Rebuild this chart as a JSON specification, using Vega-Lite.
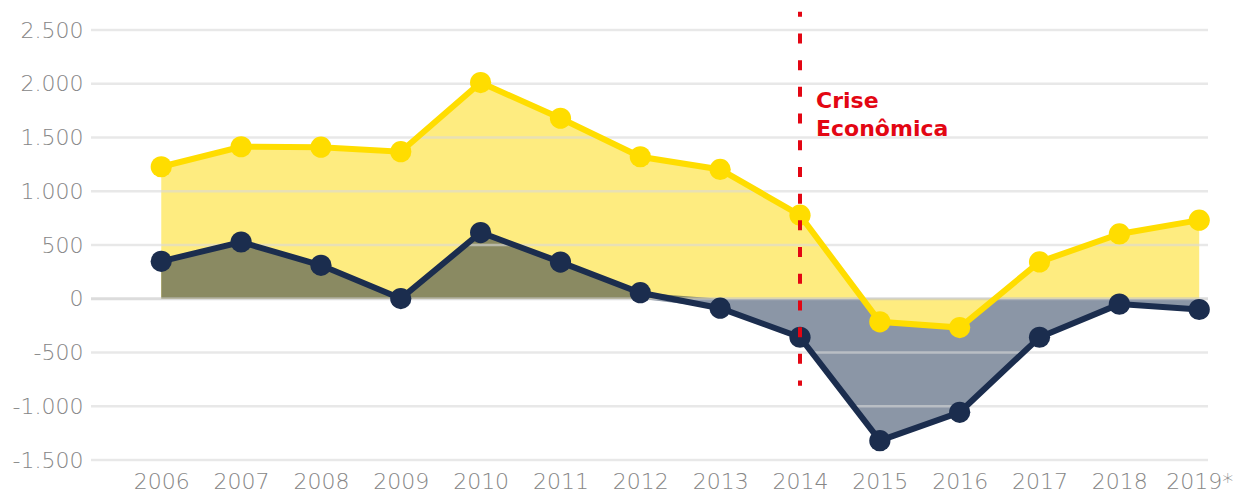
{
  "$schema": "https://vega.github.io/schema/vega-lite/v6.json",
  "autosize": {"type": "none"},
  "width": 1117,
  "height": 430,
  "padding": {"left": 91, "top": 30, "right": 29, "bottom": 32},
  "background": "white",
  "config": {
    "view": {"stroke": null},
    "font": "DejaVu Sans",
    "axis": {
      "labelFont": "DejaVu Sans",
      "labelFontWeight": 200,
      "labelColor": "#868686",
      "labelFontSize": 22,
      "ticks": false,
      "domain": false,
      "grid": false,
      "title": null
    }
  },
  "data": {
    "values": [
      {"ano": 2006, "amarela": 1228, "azul": 348},
      {"ano": 2007, "amarela": 1414, "azul": 528},
      {"ano": 2008, "amarela": 1410, "azul": 311},
      {"ano": 2009, "amarela": 1368, "azul": 2},
      {"ano": 2010, "amarela": 2011, "azul": 616},
      {"ano": 2011, "amarela": 1679, "azul": 341},
      {"ano": 2012, "amarela": 1321, "azul": 56},
      {"ano": 2013, "amarela": 1203, "azul": -88},
      {"ano": 2014, "amarela": 777, "azul": -358},
      {"ano": 2015, "amarela": -215, "azul": -1320},
      {"ano": 2016, "amarela": -268, "azul": -1056},
      {"ano": 2017, "amarela": 343, "azul": -358},
      {"ano": 2018, "amarela": 603, "azul": -50},
      {"ano": 2019, "amarela": 731, "azul": -100}
    ]
  },
  "encoding": {
    "x": {
      "field": "ano",
      "type": "quantitative",
      "scale": {"domain": [2005.12, 2019.11], "nice": false, "zero": false},
      "axis": {
        "values": [2006, 2007, 2008, 2009, 2010, 2011, 2012, 2013, 2014, 2015, 2016, 2017, 2018, 2019],
        "labelExpr": "datum.value == 2019 ? '2019*' : '' + datum.value",
        "labelPadding": 11,
        "labelFlush": false,
        "labelOverlap": false
      }
    }
  },
  "resolve": {"scale": {"y": "independent"}, "axis": {"y": "independent"}},
  "layer": [
    {
      "mark": {"type": "area", "color": "#8B96A6", "opacity": 1},
      "encoding": {
        "y": {"field": "azul", "type": "quantitative", "scale": {"domain": [-1500, 0], "range": [430, 268.75], "clamp": true, "nice": false, "zero": false}, "axis": null},
        "y2": {"datum": 0}
      }
    },
    {
      "mark": {"type": "area", "color": "#FEEC80", "opacity": 1},
      "encoding": {
        "y": {
          "field": "amarela",
          "type": "quantitative",
          "scale": {"domain": [-1500, 2500], "range": [430, 0], "nice": false, "zero": false},
          "axis": {
            "values": [-1500, -1000, -500, 0, 500, 1000, 1500, 2000, 2500],
            "labelExpr": "replace(replace(format(datum.value, ','), ',', '.'), '\u2212', '-')",
            "labelPadding": 8
          }
        },
        "y2": {"datum": 0}
      }
    },
    {
      "mark": {"type": "area", "color": "#8A8A62", "opacity": 1},
      "encoding": {
        "y": {"field": "azul", "type": "quantitative", "scale": {"domain": [0, 2500], "range": [268.75, 0], "clamp": true, "nice": false, "zero": false}, "axis": null},
        "y2": {"datum": 0}
      }
    },
    {
      "data": {"values": [{"v": -1500}, {"v": -1000}, {"v": -500}, {"v": 0}, {"v": 500}, {"v": 1000}, {"v": 1500}, {"v": 2000}, {"v": 2500}]},
      "mark": {"type": "rule", "opacity": 0.6},
      "encoding": {
        "x": null,
        "y": {"field": "v", "type": "quantitative", "scale": {"domain": [-1500, 2500], "range": [430, 0], "nice": false, "zero": false}, "axis": null},
        "color": {"condition": {"test": "datum.v === 0", "value": "#c4c4c4"}, "value": "#d8d8d8"},
        "strokeWidth": {"condition": {"test": "datum.v === 0", "value": 3}, "value": 2.5}
      }
    },
    {
      "mark": {"type": "line", "color": "#FFDD00", "strokeWidth": 6, "point": {"filled": true, "size": 450, "color": "#FFDD00", "opacity": 1}},
      "encoding": {
        "y": {"field": "amarela", "type": "quantitative", "scale": {"domain": [-1500, 2500], "range": [430, 0], "nice": false, "zero": false}, "axis": null}
      }
    },
    {
      "mark": {"type": "line", "color": "#1B2D4E", "strokeWidth": 6, "point": {"filled": true, "size": 450, "color": "#1B2D4E", "opacity": 1}},
      "encoding": {
        "y": {"field": "azul", "type": "quantitative", "scale": {"domain": [-1500, 2500], "range": [430, 0], "nice": false, "zero": false}, "axis": null}
      }
    },
    {
      "data": {"values": [{"ano": 2014, "topo": 2670, "base": -810}]},
      "mark": {"type": "rule", "color": "#E30613", "strokeWidth": 4, "strokeDash": [10, 16.7], "strokeDashOffset": 5, "clip": false},
      "encoding": {
        "y": {"field": "topo", "type": "quantitative", "scale": {"domain": [-1500, 2500], "range": [430, 0], "nice": false, "zero": false}, "axis": null},
        "y2": {"field": "base"}
      }
    },
    {
      "data": {"values": [{"ano": 2014, "rotulo": "Crise\nEconômica", "ytexto": 1930}]},
      "mark": {"type": "text", "color": "#E30613", "font": "DejaVu Sans", "fontWeight": 600, "fontSize": 22, "align": "left", "baseline": "top", "dx": 16, "lineBreak": "\n", "lineHeight": 28},
      "encoding": {
        "y": {"field": "ytexto", "type": "quantitative", "scale": {"domain": [-1500, 2500], "range": [430, 0], "nice": false, "zero": false}, "axis": null},
        "text": {"field": "rotulo"}
      }
    }
  ]
}
